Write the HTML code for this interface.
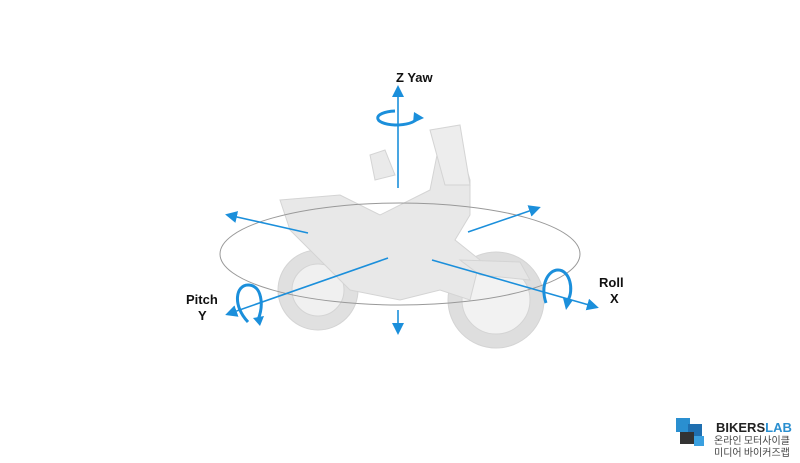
<!DOCTYPE html>
<html><head><meta charset="utf-8"><style>
body{margin:0;background:#fff;width:800px;height:458px;overflow:hidden;font-family:"Liberation Sans","Noto Sans CJK KR",sans-serif}
</style></head><body>
<svg width="800" height="458" viewBox="0 0 800 458" xmlns="http://www.w3.org/2000/svg">
<defs><marker id="a" markerWidth="12" markerHeight="12" refX="9" refY="6" orient="auto" markerUnits="userSpaceOnUse"><path d="M0,0 L12,6 L0,12 Z" fill="#1b8fdb"/></marker></defs>
<!-- motorcycle -->
<g fill="#e8e8e8" stroke="#d4d4d4" stroke-width="1">
<circle cx="318" cy="290" r="40" fill="#e0e0e0"/>
<circle cx="318" cy="290" r="26" fill="#f0f0f0"/>
<circle cx="496" cy="300" r="48" fill="#dedede"/>
<circle cx="496" cy="300" r="34" fill="#f2f2f2"/>
<path d="M280,200 L340,195 L380,215 L430,190 L440,140 L455,130 L470,180 L470,215 L455,240 L480,260 L470,300 L440,290 L400,300 L350,290 L320,260 L290,230 Z"/>
<path d="M430,130 L460,125 L470,185 L445,185 Z" fill="#ededed"/>
<path d="M370,155 L385,150 L395,175 L375,180 Z" fill="#eaeaea"/>
<path d="M460,260 L520,262 L530,280 L480,275 Z" fill="#e5e5e5"/>
</g>
<ellipse cx="400" cy="254" rx="180" ry="51" fill="none" stroke="#999" stroke-width="1"/>
<g stroke="#1b8fdb" stroke-width="1.6" fill="none">
<line x1="398" y1="188" x2="398" y2="88" marker-end="url(#a)"/>
<line x1="398" y1="310" x2="398" y2="332" marker-end="url(#a)"/>
<line x1="308" y1="233" x2="228" y2="215" marker-end="url(#a)"/>
<line x1="468" y1="232" x2="538" y2="208" marker-end="url(#a)"/>
<line x1="388" y1="258" x2="228" y2="314" marker-end="url(#a)"/>
<line x1="432" y1="260" x2="596" y2="307" marker-end="url(#a)"/>
</g>
<g stroke="#1b8fdb" stroke-width="3" fill="none">
<path d="M395,111 C372,112 372,124 395,125 C405,125 414,123 418,118"/>
<path d="M248,322 C232,305 236,285 248,285 C262,285 264,305 258,320"/>
<path d="M546,303 C540,285 548,270 558,270 C570,270 574,290 568,300"/>
</g>
<g fill="#1b8fdb">
<path d="M414,112 L424,118 L413,123 Z"/>
<path d="M253,318 L260,326 L264,316 Z"/>
<path d="M563,298 L566,310 L573,300 Z"/>
</g>
<g font-weight="bold" font-size="13" fill="#111" font-family="Liberation Sans,sans-serif">
<text x="396" y="82">Z Yaw</text>
<text x="186" y="304">Pitch</text>
<text x="198" y="320">Y</text>
<text x="599" y="287">Roll</text>
<text x="610" y="303">X</text>
</g>
<g>
<rect x="676" y="418" width="14" height="14" fill="#2a8fd0"/>
<rect x="688" y="424" width="14" height="14" fill="#1f6fb0"/>
<rect x="680" y="432" width="14" height="12" fill="#333"/>
<rect x="694" y="436" width="10" height="10" fill="#3aa0e0"/>
<text x="716" y="432" font-size="13" font-weight="bold" fill="#222" font-family="Liberation Sans,sans-serif">BIKERS<tspan fill="#2a8fd0">LAB</tspan></text>
<text x="714" y="444" font-size="10" fill="#444" font-family="Noto Sans CJK KR,sans-serif">온라인 모터사이클</text>
<text x="714" y="456" font-size="10" fill="#444" font-family="Noto Sans CJK KR,sans-serif">미디어 바이커즈랩</text>
</g>
</svg>
</body></html>
